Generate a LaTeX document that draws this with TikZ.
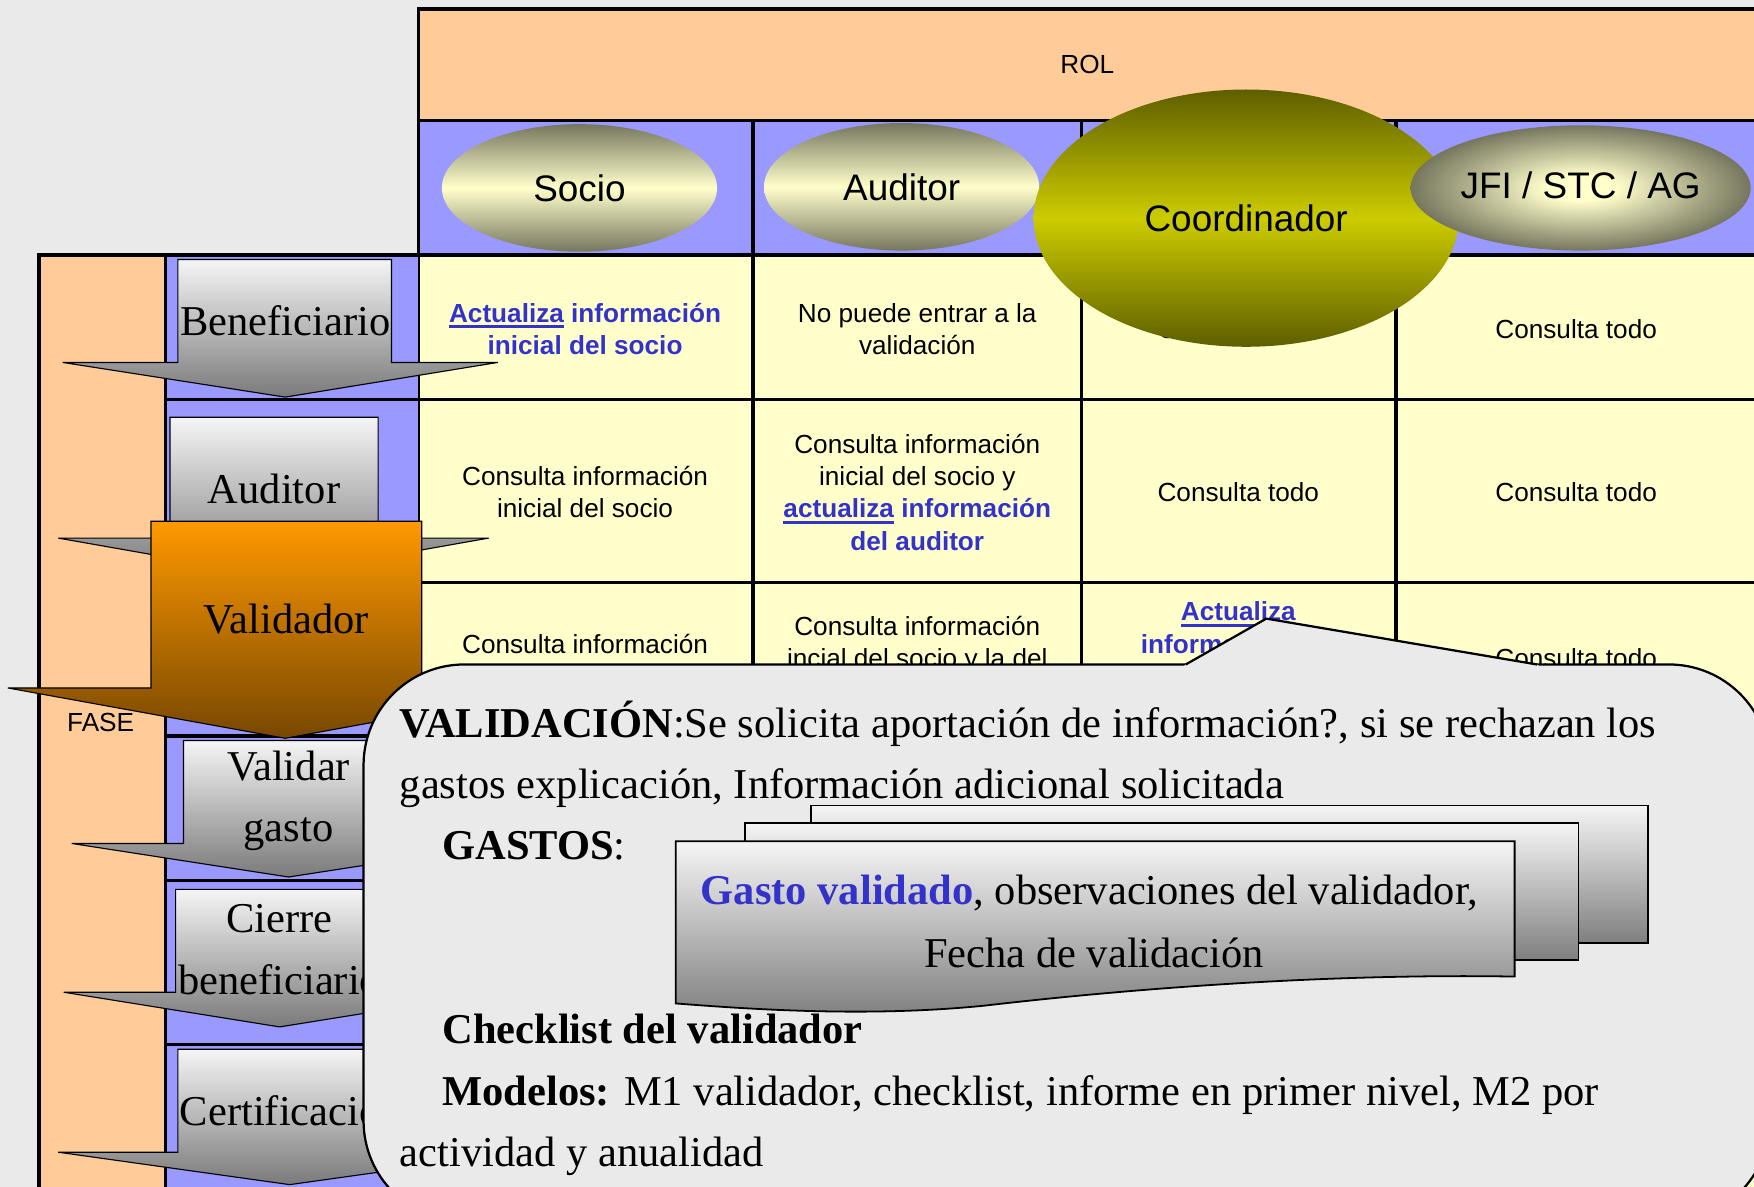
\documentclass[tikz,border=0pt]{standalone}
\usepackage{fontspec}
\setmainfont{Liberation Serif}
\setsansfont{Liberation Sans}
\usetikzlibrary{shapes.geometric}

\definecolor{fondo}{HTML}{EAEAEA}
\definecolor{melocoton}{HTML}{FFCC99}
\definecolor{lila}{HTML}{9999FF}
\definecolor{crema}{HTML}{FFFFCC}
\definecolor{enlace}{HTML}{3333CC}
\definecolor{oliva}{HTML}{5E5E00}
\definecolor{amarillo}{HTML}{CCCC00}
\definecolor{pardo}{HTML}{76765E}
\definecolor{naranja}{HTML}{FF9900}
\definecolor{marron}{HTML}{774700}

\pgfdeclareradialshading{bolarol}{\pgfpoint{0bp}{0bp}}{color(0bp)=(crema); color(5bp)=(crema); color(25bp)=(pardo); color(50bp)=(pardo)}

% subrayado grueso de los enlaces
\newcommand{\subraya}[1]{\setbox0\hbox{#1}\rlap{\rule[-2.6pt]{\wd0}{1.1pt}}\box0\relax}

\begin{document}
\begin{tikzpicture}[x=0.5pt, y=-0.5pt]
	\tikzset{
		celda/.style={font=\sffamily\fontsize{11.7}{14.5}\selectfont, align=center, inner sep=0},
		enlace/.style={celda, text=enlace, font=\sffamily\bfseries\fontsize{11.7}{14.5}\selectfont},
		rol/.style={font=\sffamily\fontsize{16.5}{20}\selectfont, inner sep=0},
		flecha/.style={draw, line width=0.5pt, top color=white!96!black, bottom color=black!52},
		rotulo/.style={font=\fontsize{19}{27.5}\selectfont, align=center, inner sep=0},
		linea/.style={font=\fontsize{19}{27.5}\selectfont, anchor=base west, inner sep=0},
		hoja/.style={draw, line width=0.8pt, top color=white!96!black, bottom color=black!50},
		rejilla/.style={line width=1.5pt}
	}
	\clip (0,0) rectangle (1568,1061);
	\fill[fondo] (0,0) rectangle (1568,1061);
	
	% Tabla de roles
	\fill[melocoton] (374,8) rectangle (1580,108);
	\fill[lila] (374,108) rectangle (1580,228);
	\fill[crema] (374,228) rectangle (1580,1070);
	\draw[rejilla] (1580,8) -- (374,8) -- (374,1070);
	\foreach \y in {108,228,357,521,660}
		\draw[rejilla] (374,\y) -- (1580,\y);
	\foreach \x in {673,967,1248}
		\draw[rejilla] (\x,108) -- (\x,1070);
	\node[celda] (rol) at (972,58) {ROL};
	
	\node[enlace] (s1) at (523,294) {\subraya{Actualiza} información\\inicial del socio};
	\node[celda] (a1) at (820,294) {No puede entrar a la\\validación};
	\node[celda] (c1) at (1107,294) {Consulta todo};
	\node[celda] (j1) at (1409,294) {Consulta todo};
	
	\node[celda] (s2) at (523,440) {Consulta información\\inicial del socio};
	\node[celda] (a2) at (820,440) {Consulta información\\inicial del socio y\\{\color{enlace}\bfseries\subraya{actualiza} información}\\{\color{enlace}\bfseries del auditor}};
	\node[celda] (c2) at (1107,440) {Consulta todo};
	\node[celda] (j2) at (1409,440) {Consulta todo};
	
	\node[celda] (s3) at (523,576) {Consulta información};
	\node[celda] (a3) at (820,576) {Consulta información\\incial del socio y la del};
	\node[enlace] (c3) at (1107,561) {\subraya{Actualiza}\\información del};
	\node[celda] (j3) at (1409,588) {Consulta todo};
	
	% Tabla de fases
	\fill[melocoton] (35,228) rectangle (148,1070);
	\fill[lila] (148,228) rectangle (374,1070);
	\draw[rejilla] (35,1070) -- (35,228) -- (374,228);
	\draw[rejilla] (148,228) -- (148,1070);
	\foreach \y in {357,521,658,787,934}
		\draw[rejilla] (148,\y) -- (374,\y);
	\node[celda] (fase) at (90,646) {FASE};
	
	% Roles
	\shade[top color=pardo, bottom color=pardo, middle color=crema] (518,168) ellipse [x radius=123, y radius=57];
	\shade[top color=pardo, bottom color=pardo, middle color=crema] (806,167) ellipse [x radius=123, y radius=57];
	\shade[top color=oliva, bottom color=oliva, middle color=amarillo] (1114,195) ellipse [x radius=190, y radius=115];
	\shade[shading=bolarol] (1413,168) ellipse [x radius=152, y radius=56];
	\node[rol] (socio) at (518,168) {Socio};
	\node[rol] (auditor) at (806,167) {Auditor};
	\node[rol] (coordinador) at (1114,195) {Coordinador};
	\node[rol] (jfi) at (1413,166) {JFI / STC / AG};
	
	% Flechas de las fases
	\foreach \izq/\der/\arriba/\hombro/\alai/\alad/\px/\py in {
		159/350/232/324/56/445/255/355,
		152/338/373/481/52/437/245/515,
		164/354/662/754/64/452/258/784,
		157/347/795/887/57/443/250/918,
		159/349/938/1030/52/466/259/1059} {
		\draw[flecha] (\izq,\arriba) -- (\der,\arriba) -- (\der,\hombro) -- (\alad,\hombro) -- (\px,\py) -- (\alai,\hombro) -- (\izq,\hombro) -- cycle;
	}
	\draw[flecha, top color=naranja, bottom color=marron] (135,466) -- (377,466) -- (377,615) -- (502,615) -- (255,660) -- (7,615) -- (135,615) -- cycle;
	
	\node[rotulo] (beneficiario) at (255,287) {Beneficiario};
	\node[rotulo] (faseauditor) at (245,437) {Auditor};
	\node[rotulo] (validador) at (256,553) {Validador};
	\node[rotulo] (validar) at (258,716) {Validar\\gasto};
	\node[rotulo] (cierre) at (250,849) {Cierre\\beneficiario};
	\node[rotulo] (certificacion) at (260,993) {Certificación};
	
	% Globo de la validacion
	\draw[line width=1pt, fill=fondo, rounded corners=45pt] (325,594) rectangle (1582,1092);
	\fill[fondo] (1057,597) -- (1060,594) -- (1132,553) -- (1374,594) -- (1378,597) -- cycle;
	\draw[line width=1pt, line join=round] (1060,594) -- (1132,553) -- (1374,594);
	
	\node[linea] (l1) at (357,659) {\textbf{VALIDACIÓN}:Se solicita aportación de información?, si se rechazan los};
	\node[linea] (l2) at (357,714) {gastos explicación, Información adicional solicitada};
	\node[linea] (l3) at (395,768) {\textbf{GASTOS}:};
	\node[linea] (l4) at (395,933) {\textbf{Checklist del validador}};
	\node[linea] (l5) at (395,988) {\textbf{Modelos:} M1 validador, checklist, informe en primer nivel, M2 por};
	\node[linea] (l6) at (357,1043) {actividad y anualidad};
	
	% Documentos de gastos
	\draw[hoja] (725,720) rectangle (1473,843);
	\draw[hoja] (666,736) rectangle (1411,858);
	\draw[hoja] (604,752) -- (1354,752) -- (1354,873) .. controls (1180,870) and (1000,885) .. (880,899) .. controls (780,909) and (680,903) .. (604,897) -- cycle;
	\node[rotulo] (gasto) at (974,798) {{\color{enlace}\bfseries Gasto validado}, observaciones del validador,};
	\node[rotulo] (fecha) at (978,852) {Fecha de validación};
\end{tikzpicture}
\end{document}
